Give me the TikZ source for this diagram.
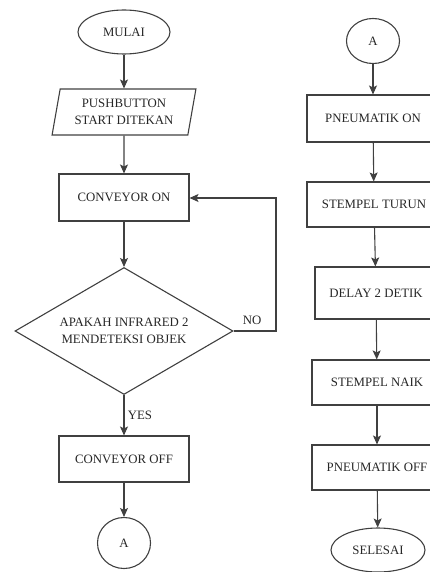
\documentclass[tikz,border=0pt]{standalone}
\usepackage{fontspec}
\setmainfont{Liberation Serif}
\usetikzlibrary{shapes.geometric,arrows.meta}
\begin{document}
\begin{tikzpicture}[x=1pt,y=1pt,
  every node/.style={font=\fontsize{12.8}{16.5}\selectfont, text=black!85, align=center},
  ln/.style={draw=black!75, line width=1.1pt},
  arr/.style={ln, -{Stealth[length=9pt,width=8pt,inset=2pt]}},
  procbox/.style={ln, rectangle, minimum width=130pt, minimum height=46pt, inner sep=0pt},
  term/.style={ln, ellipse, minimum width=92pt, minimum height=44pt, inner sep=0pt},
  conn/.style={ln, ellipse, minimum width=53pt, minimum height=48pt, inner sep=0pt},
  iobox/.style={ln, trapezium, trapezium left angle=76, trapezium right angle=104, trapezium stretches=true, minimum width=144pt, minimum height=46pt, inner sep=0pt},
  decbox/.style={ln, diamond, aspect=1.72, minimum width=218pt, minimum height=127pt, inner sep=0pt},
  lbl/.style={font=\fontsize{12.8}{15}\selectfont}
]
\useasboundingbox (0,0) rectangle (430,-572);
\clip (0,0) rectangle (430,-572);
% left column
\node[term] (mulai) at (124,-32) {MULAI};
\node[iobox] (push) at (124,-112) {PUSHBUTTON\\START DITEKAN};
\node[procbox, minimum height=47pt] (on) at (124,-197.5) {CONVEYOR ON};
\node[decbox] (dec) at (124,-331) {APAKAH INFRARED 2\\MENDETEKSI OBJEK};
\node[procbox] (off) at (124,-459) {CONVEYOR OFF};
\node[conn, minimum height=51pt] (a1) at (124,-543) {A};
\draw[arr] (mulai) -- (push);
\draw[arr] (push) -- (on);
\draw[arr] (on) -- (dec);
\draw[arr] (dec) -- node[lbl, right=0pt, pos=0.5] (yes) {YES} (off);
\draw[arr] (off) -- (a1);
\coordinate (c1) at (276,-331);
\coordinate (c2) at (276,-198);
\draw[arr] (dec.east) -- (c1) -- (c2) -- (on.east |- c2);
\node[lbl] (no) at (252,-320) {NO};
% right column
\node[conn, minimum height=45pt] (a2) at (373,-41) {A};
\node[procbox, minimum width=132pt, minimum height=47pt] (pon) at (373,-118.5) {PNEUMATIK ON};
\node[procbox, minimum width=134pt, minimum height=45pt] (stt) at (374,-204.5) {STEMPEL TURUN};
\node[procbox, minimum width=122pt, minimum height=52pt] (delay) at (376,-293) {DELAY 2 DETIK};
\node[procbox, minimum width=130pt, minimum height=45pt] (naik) at (377,-382.5) {STEMPEL NAIK};
\node[procbox, minimum width=130pt, minimum height=45pt] (poff) at (377,-467.5) {PNEUMATIK OFF};
\node[term, minimum width=94pt] (selesai) at (378,-550) {SELESAI};
\draw[arr] (a2) -- (pon);
\draw[arr] (pon) -- (stt);
\draw[arr] (stt) -- (delay);
\draw[arr] (delay) -- (naik);
\draw[arr] (naik) -- (poff);
\draw[arr] (poff) -- (selesai);
\end{tikzpicture}
\end{document}
